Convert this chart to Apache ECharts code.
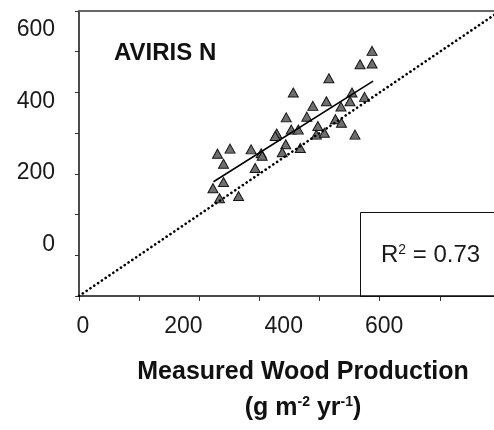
<!DOCTYPE html>
<html>
<head>
<meta charset="utf-8">
<script src="https://cdn.jsdelivr.net/npm/echarts@6/dist/echarts.min.js"></script>
<style>
html,body{margin:0;padding:0;background:#fff;}
#chart{width:494px;height:430px;}
</style>
</head>
<body>
<div id="chart"></div>
<script>
// Tick labels as printed on the axes
const xTickLabels = [0, 200, 400, 600];
const yTickLabels = [0, 200, 400, 600];

// Measured wood production (x) and AVIRIS N predicted (y), g m-2 yr-1
const measured = [576, 552, 576, 490, 419, 536, 561, 458, 485, 514, 532, 446, 405, 503, 515,
  386, 383, 415, 429, 468, 465, 481, 542, 404, 397, 433, 355, 357, 335, 293, 268, 280, 343,
  280, 259, 272, 310];
const predicted = [540, 503, 505, 464, 424, 424, 412, 387, 400, 385, 400, 357, 355, 350, 340,
  310, 303, 321, 321, 331, 307, 312, 307, 280, 258, 270, 255, 248, 266, 268, 254, 226, 214,
  175, 158, 130, 136];

// Regression fit line endpoints
const fitX = [260, 578];
const fitY = [176, 456];
// 1:1 reference line (frame units)
const oneToOneX = [0, 700];
const oneToOneY = [0, 700];

const r2Text = 'R{sup|2} = 0.73';
const panelLabel = 'AVIRIS N';

const chart = echarts.init(document.getElementById('chart'), null, {renderer: 'canvas'});

const pts = measured.map((v, i) => [v, predicted[i]]);
const fitData = fitX.map((v, i) => [v, fitY[i]]);
const oneData = oneToOneX.map((v, i) => [v, oneToOneY[i]]);

const font = 'Liberation Sans, Arial, sans-serif';

const option = {
  animation: false,
  backgroundColor: '#ffffff',
  grid: {left: 79, top: 11, width: 415, height: 285, containLabel: false},
  xAxis: [
    {
      type: 'value', position: 'bottom', min: -8, max: 819,
      axisLine: {show: true, onZero: false, lineStyle: {color: '#111', width: 1.5}},
      axisTick: {show: false},
      splitLine: {show: false},
      axisLabel: {customValues: xTickLabels, margin: 19, color: '#1a1a1a',
        fontFamily: font, fontSize: 23}
    },
    {
      type: 'value', position: 'bottom', min: 0, max: 690, interval: 100,
      axisLine: {show: false, onZero: false},
      axisTick: {show: true, length: 5, lineStyle: {color: '#333', width: 1}},
      splitLine: {show: false},
      axisLabel: {show: false}
    },
    {
      type: 'value', position: 'top', min: 0, max: 690,
      axisLine: {show: true, onZero: false, lineStyle: {color: '#666', width: 2}},
      axisTick: {show: false}, splitLine: {show: false}, axisLabel: {show: false}
    }
  ],
  yAxis: [
    {
      type: 'value', position: 'left', min: -142, max: 651,
      axisLine: {show: true, onZero: false, lineStyle: {color: '#111', width: 1.5}},
      axisTick: {show: false},
      splitLine: {show: false},
      axisLabel: {customValues: yTickLabels, margin: 24, color: '#1a1a1a',
        fontFamily: font, fontSize: 23}
    },
    {
      type: 'value', position: 'left', min: 0, max: 700, interval: 100,
      axisLine: {show: false, onZero: false},
      axisTick: {show: true, length: 4, lineStyle: {color: '#333', width: 1}},
      splitLine: {show: false},
      axisLabel: {show: false}
    }
  ],
  series: [
    {
      type: 'scatter', xAxisIndex: 0, yAxisIndex: 0, data: pts,
      symbol: 'triangle', symbolSize: [10, 9],
      itemStyle: {color: '#6f6f6f', borderColor: '#151515', borderWidth: 1, opacity: 1},
      z: 2
    },
    {
      type: 'line', xAxisIndex: 0, yAxisIndex: 0, data: fitData,
      symbol: 'none', lineStyle: {color: '#000', width: 1.6}, z: 3
    },
    {
      type: 'line', xAxisIndex: 1, yAxisIndex: 1, data: oneData,
      symbol: 'none', clip: true,
      lineStyle: {color: '#000', width: 2.6, type: [0.1, 4.5], cap: 'round'}, z: 3
    }
  ],
  graphic: [
    {
      type: 'text', left: 114, top: 41,
      style: {text: panelLabel, font: 'bold 24px ' + font, fill: '#111'}
    },
    {
      type: 'rect', shape: {x: 360.5, y: 212.5, width: 200, height: 84},
      style: {fill: 'none', stroke: '#111', lineWidth: 1}, z: 10
    },
    {
      type: 'text', x: 381, y: 255, z: 11,
      style: {
        text: r2Text, verticalAlign: 'middle', textAlign: 'left',
        font: '24px ' + font, fill: '#1a1a1a',
        rich: {sup: {fontSize: 14, fontFamily: font, verticalAlign: 'top', fill: '#1a1a1a'}}
      }
    },
    {
      type: 'text', x: 303, y: 372.5,
      style: {text: 'Measured Wood Production', textAlign: 'center', verticalAlign: 'middle',
        font: 'bold 25px ' + font, fill: '#111'}
    },
    {
      type: 'text', x: 303, y: 408,
      style: {
        text: '(g m{sup|-2} yr{sup|-1})', textAlign: 'center', verticalAlign: 'middle',
        font: 'bold 25px ' + font, fill: '#111',
        rich: {sup: {fontSize: 14, fontWeight: 'bold', fontFamily: font, verticalAlign: 'top', fill: '#111'}}
      }
    }
  ]
};
chart.setOption(option);
</script>
</body>
</html>
